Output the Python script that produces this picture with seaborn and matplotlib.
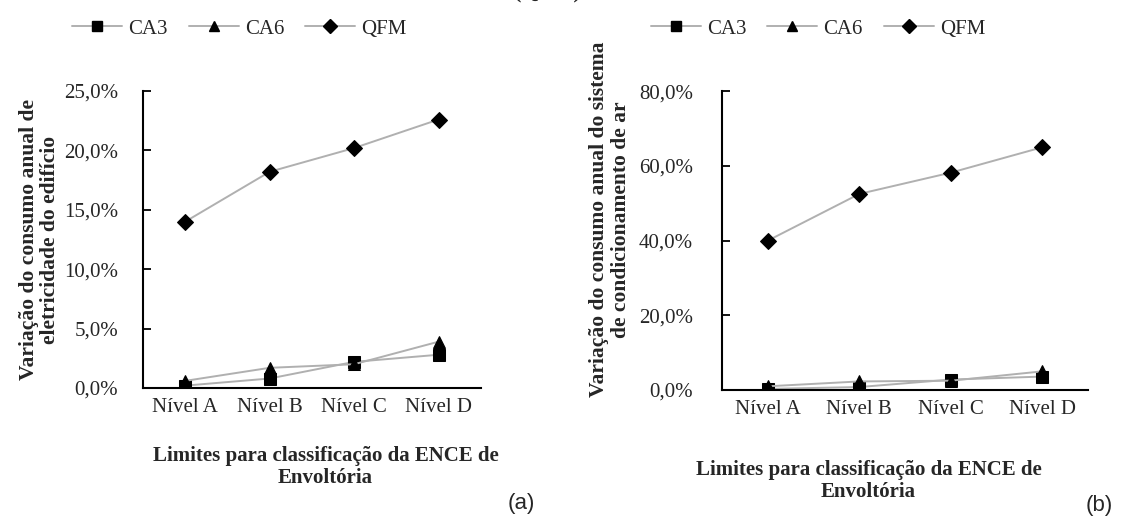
import matplotlib
matplotlib.use("Agg")
import matplotlib.pyplot as plt
import seaborn as sns
import pandas as pd
from matplotlib.lines import Line2D
from matplotlib.ticker import FuncFormatter, FixedLocator

# data
niveis = ["Nível A", "Nível B", "Nível C", "Nível D"]
series = ["CA3", "CA6", "QFM"]
# (a) building electricity use variation, %
edif_ca3 = [0.2, 0.8, 2.2, 2.8]
edif_ca6 = [0.6, 1.7, 2.0, 3.9]
edif_qfm = [14.0, 18.2, 20.2, 22.6]
# (b) air-conditioning system use variation, %
ar_ca3 = [0.3, 0.8, 2.8, 3.6]
ar_ca6 = [1.0, 2.3, 2.5, 5.0]
ar_qfm = [40.0, 52.5, 58.2, 65.0]

markers = {"CA3": "s", "CA6": "^", "QFM": "D"}
msizes = {"CA3": 8.5, "CA6": 8.5, "QFM": 8.5}

sns.set_theme(style="white")
plt.rcParams["font.family"] = ["Liberation Serif", "DejaVu Serif"]


def make_df(ca3, ca6, qfm):
	rows = []
	for name, vals in zip(series, [ca3, ca6, qfm]):
		for n, v in zip(niveis, vals):
			rows.append({"Nivel": n, "Serie": name, "Valor": v})
	return pd.DataFrame(rows)


def draw_panel(ax, df, ymax, ystep, ylabel, lab_x, lab_y, ypad):
	for name in series:
		d = df[df["Serie"] == name]
		sns.lineplot(data=d, x="Nivel", y="Valor", ax=ax, color="#b0b0b0", linewidth=1.4,
			marker=markers[name], markersize=msizes[name], markerfacecolor="black",
			markeredgecolor="black", legend=False, sort=False)
	ax.set_xlim(-0.5, 3.5)
	ax.set_ylim(0, ymax)
	ax.yaxis.set_major_locator(FixedLocator([i * ystep for i in range(int(ymax / ystep) + 1)]))
	ax.yaxis.set_major_formatter(FuncFormatter(lambda v, p: f"{v:.1f}%".replace(".", ",")))
	ax.xaxis.set_minor_locator(FixedLocator([0.5, 1.5, 2.5, 3.5]))
	ax.tick_params(axis="x", which="major", length=0, pad=7, labelsize=15)
	ax.tick_params(axis="x", which="minor", direction="in", length=6, width=1.3, color="black")
	ax.tick_params(axis="y", direction="in", length=6, width=1.3, color="black", pad=ypad, labelsize=15, left=True)
	for s in ["top", "right"]:
		ax.spines[s].set_visible(False)
	for s in ["left", "bottom"]:
		ax.spines[s].set_color("black")
		ax.spines[s].set_linewidth(1.5)
	ax.set_ylabel(ylabel, fontsize=15.5, fontweight="bold", linespacing=1.1)
	ax.yaxis.set_label_coords(lab_x, lab_y)
	ax.set_xlabel("Limites para classificação da ENCE de\nEnvoltória", fontsize=15, fontweight="bold", linespacing=1.15)
	ax.xaxis.label.set_va("center")


fig = plt.figure(figsize=(11.3, 5.17), dpi=100)
ax1 = fig.add_axes([0.1265, 0.2495, 0.299, 0.5745])
ax2 = fig.add_axes([0.639, 0.2456, 0.324, 0.578])

draw_panel(ax1, make_df(edif_ca3, edif_ca6, edif_qfm), 25, 5,
	"Variação do consumo anual de\neletricidade do edifício", -0.245, 0.50, 18)
ax1.xaxis.set_label_coords(0.54, -0.265)

draw_panel(ax2, make_df(ar_ca3, ar_ca6, ar_qfm), 80, 20,
	"Variação do consumo anual do sistema\nde condicionamento de ar", -0.25, 0.57, 21)
ax2.xaxis.set_label_coords(0.40, -0.305)

handles = [Line2D([], [], color="#b0b0b0", linewidth=1.4, marker=markers[s], markersize=7.5,
	markerfacecolor="black", markeredgecolor="black") for s in series]
for cx in [0.212, 0.724]:
	fig.legend(handles, series, loc="center", bbox_to_anchor=(cx, 0.944), ncol=3, frameon=False,
		fontsize=15, handlelength=2.4, columnspacing=1.0, handletextpad=0.3)

fig.text(0.461, 0.027, "(a)", fontsize=16, family="Liberation Sans", ha="center", va="center")
fig.text(0.973, 0.023, "(b)", fontsize=16, family="Liberation Sans", ha="center", va="center")
# heading of the figure above, only its lower edge shows
fig.text(0.455, 1.012, "(QFM)", fontsize=16, fontweight="bold", ha="left", va="center")

fig.savefig("out.png", dpi=100)
